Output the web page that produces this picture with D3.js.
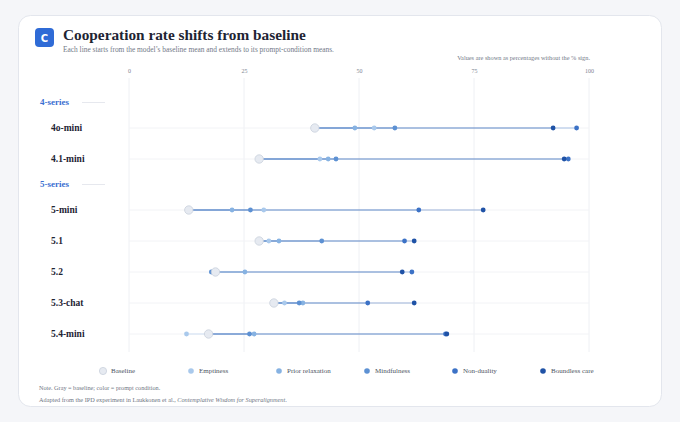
<!DOCTYPE html>
<html>
<head>
<meta charset="utf-8">
<script src="https://cdn.jsdelivr.net/npm/d3@7"></script>
<style>
  html, body { margin: 0; padding: 0; background: #f5f6f9; }
  svg { display: block; font-family: "Liberation Serif", serif; }
</style>
</head>
<body>
<div id="chart"></div>
<script>
// values (percent)
const models = ["4o-mini", "4.1-mini", "5-mini", "5.1", "5.2", "5.3-chat", "5.4-mini"];
const modelGroups = ["4-series", "4-series", "5-series", "5-series", "5-series", "5-series", "5-series"];
const baseline = [40.4, 28.3, 13.0, 28.3, 18.8, 31.5, 17.3];
const emptiness = [53.3, 41.5, 29.3, 30.4, 18.6, 33.8, 12.5];
const priorRelaxation = [49.1, 43.3, 22.4, 32.6, 25.2, 37.8, 27.2];
const mindfulness = [57.8, 45.0, 26.4, 41.9, 17.9, 37.0, 26.2];
const nonDuality = [97.3, 95.5, 63.0, 59.9, 61.5, 51.9, 68.8];
const boundlessCare = [92.2, 94.6, 77.0, 62.0, 59.4, 62.0, 69.1];

const conditionNames = ["Emptiness", "Prior relaxation", "Mindfulness", "Non-duality", "Boundless care"];
const conditionValues = [emptiness, priorRelaxation, mindfulness, nonDuality, boundlessCare];
const conditionColors = ["#a9c9ec", "#86b2e2", "#5d91d3", "#3c72c6", "#1f52a6"];
const xTicks = [0, 25, 50, 75, 100];

const width = 680;
const height = 422;

const svg = d3.select("#chart").append("svg")
  .attr("width", width)
  .attr("height", height)
  .attr("viewBox", `0 0 ${width} ${height}`);

// card
svg.append("rect")
  .attr("x", 18.5).attr("y", 15.5)
  .attr("width", 643).attr("height", 391)
  .attr("rx", 12)
  .attr("fill", "#ffffff")
  .attr("stroke", "#e3e6ed");

// badge + heading
svg.append("rect")
  .attr("x", 35).attr("y", 28).attr("width", 19).attr("height", 19).attr("rx", 4)
  .attr("fill", "#2f6bd6");
svg.append("text")
  .attr("x", 44.5).attr("y", 41.5)
  .attr("text-anchor", "middle")
  .attr("fill", "#fff").attr("font-weight", 700).attr("font-size", 10)
  .attr("font-family", "'DejaVu Sans', sans-serif")
  .text("C");
svg.append("text")
  .attr("x", 63).attr("y", 40)
  .attr("fill", "#1e2433").attr("font-weight", 700).attr("font-size", 15.3)
  .text("Cooperation rate shifts from baseline");
svg.append("text")
  .attr("x", 63).attr("y", 52)
  .attr("fill", "#737a88").attr("font-size", 7.4)
  .text("Each line starts from the model\u2019s baseline mean and extends to its prompt-condition means.");
svg.append("text")
  .attr("x", 590).attr("y", 60)
  .attr("text-anchor", "end")
  .attr("fill", "#737a88").attr("font-size", 6.3)
  .text("Values are shown as percentages without the % sign.");

const x = d3.scaleLinear().domain([0, 100]).range([129, 589]);

// vertical layout: group headers then model rows
const slots = [];
let yPos = 102;
models.forEach((m, i) => {
  if (i === 0 || modelGroups[i] !== modelGroups[i - 1]) {
    if (i > 0) yPos += 25;
    slots.push({ type: "group", label: modelGroups[i], y: yPos });
    yPos += 26;
  } else {
    yPos += 31;
  }
  slots.push({ type: "row", index: i, label: m, y: yPos });
});
const rows = slots.filter((s) => s.type === "row");
const yOf = (i) => rows.find((r) => r.index === i).y;

// axis on top
const axis = d3.axisTop(x).tickValues(xTicks).tickSize(0).tickPadding(0);
const axisG = svg.append("g").attr("transform", "translate(0,73)").call(axis);
axisG.select(".domain").remove();
axisG.selectAll("text")
  .attr("fill", "#7d8492").attr("font-size", 6).attr("font-family", "Liberation Serif, serif");

// gridlines
svg.append("g").selectAll("line")
  .data(xTicks)
  .join("line")
  .attr("x1", (d) => x(d)).attr("x2", (d) => x(d))
  .attr("y1", 78).attr("y2", 352)
  .attr("stroke", "#eef0f4").attr("stroke-width", 1);

// faint row guides
svg.append("g").selectAll("line")
  .data(rows)
  .join("line")
  .attr("x1", x(0)).attr("x2", x(100))
  .attr("y1", (r) => r.y).attr("y2", (r) => r.y)
  .attr("stroke", "#f2f3f6").attr("stroke-width", 1);

// group headers
const groupSel = svg.append("g").selectAll("g")
  .data(slots.filter((s) => s.type === "group"))
  .join("g");
groupSel.append("text")
  .attr("x", 40).attr("y", (d) => d.y + 3)
  .attr("fill", "#3b6fd1").attr("font-weight", 700).attr("font-size", 9)
  .text((d) => d.label);
groupSel.append("line")
  .attr("x1", 82).attr("x2", 105)
  .attr("y1", (d) => d.y + 0.5).attr("y2", (d) => d.y + 0.5)
  .attr("stroke", "#e6e8ee");

// row labels
svg.append("g").selectAll("text")
  .data(rows)
  .join("text")
  .attr("x", 51).attr("y", (r) => r.y + 3.2)
  .attr("fill", "#1e2433").attr("font-weight", 700).attr("font-size", 9.5)
  .text((r) => r.label);

// segments from baseline to each condition mean
const segments = [];
models.forEach((m, i) => {
  conditionValues.forEach((vals, c) => {
    segments.push({ i, c, from: baseline[i], to: vals[i] });
  });
});

svg.append("g").selectAll("line")
  .data(segments)
  .join("line")
  .attr("x1", (d) => x(d.from)).attr("x2", (d) => x(d.to))
  .attr("y1", (d) => yOf(d.i)).attr("y2", (d) => yOf(d.i))
  .attr("stroke", (d) => conditionColors[d.c])
  .attr("stroke-opacity", 0.42)
  .attr("stroke-width", 1.2);

// condition dots
svg.append("g").selectAll("circle")
  .data(segments)
  .join("circle")
  .attr("cx", (d) => x(d.to)).attr("cy", (d) => yOf(d.i))
  .attr("r", 2.4)
  .attr("fill", (d) => conditionColors[d.c]);

// baseline dots on top
svg.append("g").selectAll("circle")
  .data(models.map((m, i) => i))
  .join("circle")
  .attr("cx", (i) => x(baseline[i])).attr("cy", (i) => yOf(i))
  .attr("r", 4.2)
  .attr("fill", "#e6eaf1")
  .attr("stroke", "#c9d0dc").attr("stroke-width", 0.8);

// legend
const legendItems = [{ name: "Baseline", color: "#e6eaf1", base: true }]
  .concat(conditionNames.map((n, c) => ({ name: n, color: conditionColors[c], base: false })));
const legendX = d3.scalePoint().domain(legendItems.map((d) => d.name)).range([103, 543]);
const legend = svg.append("g").selectAll("g")
  .data(legendItems)
  .join("g")
  .attr("transform", (d) => `translate(${legendX(d.name)},371)`);
legend.append("circle")
  .attr("r", (d) => (d.base ? 3.6 : 2.8))
  .attr("fill", (d) => d.color)
  .attr("stroke", (d) => (d.base ? "#c9d0dc" : "none"))
  .attr("stroke-width", 0.8);
legend.append("text")
  .attr("x", 8).attr("y", 2.4)
  .attr("fill", "#4d5462").attr("font-size", 7)
  .text((d) => d.name);

// footer notes
svg.append("text")
  .attr("x", 39).attr("y", 390)
  .attr("fill", "#6f7684").attr("font-size", 6.2)
  .text("Note. Gray = baseline; color = prompt condition.");
const src = svg.append("text")
  .attr("x", 39).attr("y", 402)
  .attr("fill", "#6f7684").attr("font-size", 6.25);
src.append("tspan").text("Adapted from the IPD experiment in Laukkonen et al., ");
src.append("tspan").attr("font-style", "italic").text("Contemplative Wisdom for Superalignment");
src.append("tspan").text(".");
</script>
</body>
</html>
